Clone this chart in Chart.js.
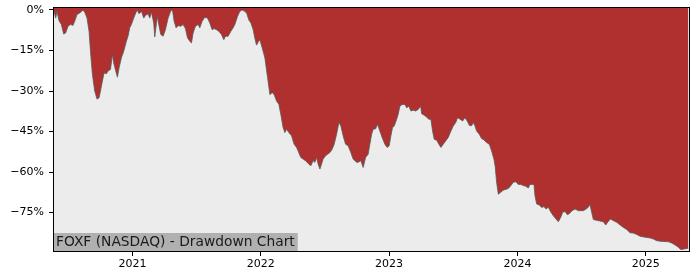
<!DOCTYPE html>
<html>
<head>
<meta charset="utf-8">
<script src="https://cdn.jsdelivr.net/npm/chart.js@4"></script>
<style>
  body { margin: 0; background: #fff; }
  #wrap { width: 700px; height: 280px; }
</style>
</head>
<body>
<div id="wrap"><canvas id="ddChart"></canvas></div>
<script>
// dates as decimal years, drawdown in percent from the running peak
const dates = [
  2020.387, 2020.402, 2020.412, 2020.428, 2020.446, 2020.464, 2020.480, 2020.498, 2020.517, 2020.537,
  2020.550, 2020.568, 2020.589, 2020.615, 2020.630, 2020.646, 2020.662, 2020.673, 2020.688, 2020.706,
  2020.724, 2020.740, 2020.751, 2020.766, 2020.779, 2020.797, 2020.810, 2020.829, 2020.844, 2020.854,
  2020.870, 2020.883, 2020.896, 2020.914, 2020.932, 2020.953, 2020.966, 2020.979, 2020.992, 2021.010,
  2021.026, 2021.036, 2021.052, 2021.070, 2021.088, 2021.104, 2021.122, 2021.135, 2021.148, 2021.166,
  2021.174, 2021.187, 2021.195, 2021.205, 2021.221, 2021.239, 2021.257, 2021.278, 2021.299, 2021.312,
  2021.325, 2021.340, 2021.356, 2021.377, 2021.395, 2021.413, 2021.429, 2021.447, 2021.460, 2021.473,
  2021.491, 2021.512, 2021.525, 2021.543, 2021.564, 2021.585, 2021.603, 2021.621, 2021.636, 2021.655,
  2021.673, 2021.694, 2021.712, 2021.725, 2021.746, 2021.767, 2021.785, 2021.798, 2021.819, 2021.837,
  2021.855, 2021.876, 2021.891, 2021.907, 2021.923, 2021.941, 2021.954, 2021.967, 2021.981, 2021.993,
  2022.011, 2022.032, 2022.053, 2022.071, 2022.089, 2022.104, 2022.123, 2022.141, 2022.156, 2022.174,
  2022.188, 2022.201, 2022.219, 2022.240, 2022.260, 2022.279, 2022.291, 2022.312, 2022.330, 2022.349,
  2022.369, 2022.390, 2022.408, 2022.422, 2022.435, 2022.447, 2022.461, 2022.474, 2022.486, 2022.505,
  2022.521, 2022.539, 2022.556, 2022.572, 2022.591, 2022.609, 2022.624, 2022.642, 2022.661, 2022.681,
  2022.702, 2022.720, 2022.747, 2022.759, 2022.780, 2022.798, 2022.817, 2022.837, 2022.850, 2022.864,
  2022.876, 2022.895, 2022.910, 2022.928, 2022.946, 2022.967, 2022.985, 2023.001, 2023.014, 2023.027,
  2023.040, 2023.059, 2023.071, 2023.084, 2023.102, 2023.123, 2023.137, 2023.154, 2023.170, 2023.188,
  2023.207, 2023.227, 2023.246, 2023.254, 2023.274, 2023.292, 2023.310, 2023.326, 2023.339, 2023.352,
  2023.371, 2023.388, 2023.404, 2023.422, 2023.441, 2023.461, 2023.482, 2023.500, 2023.519, 2023.534,
  2023.552, 2023.573, 2023.591, 2023.609, 2023.625, 2023.643, 2023.656, 2023.669, 2023.682, 2023.703,
  2023.721, 2023.739, 2023.760, 2023.781, 2023.799, 2023.817, 2023.827, 2023.838, 2023.851, 2023.870,
  2023.890, 2023.911, 2023.929, 2023.948, 2023.968, 2023.989, 2024.007, 2024.026, 2024.046, 2024.067,
  2024.085, 2024.098, 2024.119, 2024.129, 2024.137, 2024.150, 2024.171, 2024.189, 2024.207, 2024.223,
  2024.241, 2024.259, 2024.280, 2024.301, 2024.319, 2024.337, 2024.353, 2024.371, 2024.389, 2024.404,
  2024.426, 2024.449, 2024.475, 2024.514, 2024.535, 2024.553, 2024.566, 2024.579, 2024.592, 2024.631,
  2024.670, 2024.688, 2024.709, 2024.727, 2024.748, 2024.774, 2024.800, 2024.826, 2024.852, 2024.878,
  2024.903, 2024.930, 2024.956, 2024.995, 2025.034, 2025.059, 2025.086, 2025.112, 2025.137, 2025.176,
  2025.203, 2025.229, 2025.254, 2025.273, 2025.299, 2025.332
];
const drawdown = [
  0, -3, -0.5, -4, -5.4, -8.9, -8.5, -6, -5.4, -5.7,
  -4.2, -1.7, -1.1, 0, -1, -3, -7.9, -15.3, -23.9, -30,
  -33, -32.5, -30, -26.3, -23.3, -23.6, -22.6, -22, -16.5, -19.6,
  -22.6, -24.9, -21.4, -17.7, -15.3, -11.6, -9.7, -6.6, -5.4, -3,
  -1.1, 0, -1.4, -0.5, -3, -1.9, -1.5, -3, -0.8, -4.8,
  -10, -5, -2.4, -5.4, -9.1, -9.7, -7.3, -3, -0.3, 0,
  -4.2, -6.6, -5.8, -6, -5.4, -6.9, -10.3, -11.6, -12.2, -8.5,
  -6, -5.4, -6.6, -4.2, -2.7, -3, -4.8, -7.3, -6.9, -7.3,
  -7.9, -9.1, -11, -9.7, -9.7, -7.9, -6.6, -5.4, -2.4, -0.5,
  0, -0.5, -1.3, -3.7, -4.8, -7.3, -10.5, -13, -11.8, -11,
  -14, -17.7, -25, -31.3, -30.6, -31.3, -33.7, -34.9, -38.6, -43.5,
  -45.4, -44.2, -45.4, -46.6, -49.7, -50.9, -52.2, -54.6, -55.2, -55.8,
  -56.8, -57.7, -55.8, -56.4, -54.6, -57, -58.9, -57, -55.2, -54,
  -53.4, -52.8, -51.6, -49.7, -46, -41.7, -42.9, -46.6, -49.7, -50.3,
  -52.8, -55.2, -56.4, -56.4, -55.8, -58.3, -54.6, -53.4, -49.7, -46,
  -44.2, -44, -42.3, -44.8, -47.2, -49.7, -50.9, -50.3, -46.6, -43.5,
  -43, -40.5, -38.6, -35.6, -35, -35, -36.2, -35.6, -37.4, -37.1,
  -37.4, -36.8, -35.6, -38.4, -39, -39.6, -40.5, -40.5, -44.8, -47.9,
  -48.2, -49.7, -50.9, -49.7, -48.5, -47.2, -44.8, -43, -41.7, -39.9,
  -40.4, -41.1, -39.9, -41.1, -42.7, -42.9, -41.7, -42.9, -44.8, -46,
  -47.6, -48.1, -49.1, -49.7, -52.2, -55.2, -58, -63.8, -68.2, -67.5,
  -66.7, -66.4, -66.1, -65.1, -63.8, -63.6, -64.6, -64.6, -65, -65.3,
  -65.9, -64.6, -64.6, -64.6, -68.8, -71.8, -72.2, -73.1, -72.8, -73.7,
  -73, -74.7, -76.2, -77.4, -78.4, -76.8, -74.9, -74.6, -75.8, -75.4,
  -74.3, -73.7, -74.3, -74.3, -73.7, -73, -72, -75, -77.6, -78,
  -78.4, -79.6, -78.2, -77.4, -78, -78.6, -79.6, -80.5, -81.3, -82.5,
  -82.6, -83.1, -83.8, -84.1, -84.4, -84.8, -85.4, -85.6, -85.7, -85.8,
  -86.3, -87, -87.8, -88.7, -88.5, -88.2
];
const yTicks = [0, -15, -30, -45, -60, -75];
const xTicks = [2021, 2022, 2023, 2024, 2025];
const chartLabel = "FOXF (NASDAQ) - Drawdown Chart";

const points = dates.map((d, i) => ({ x: d, y: drawdown[i] }));

const plotBg = {
  id: "plotBg",
  beforeDraw(chart) {
    const { ctx, chartArea: a } = chart;
    ctx.save();
    ctx.fillStyle = "#ececec";
    ctx.fillRect(a.left, a.top, a.right - a.left, a.bottom - a.top);
    ctx.restore();
  }
};

const frameAndLabel = {
  id: "frameAndLabel",
  afterDraw(chart) {
    const { ctx, chartArea: a } = chart;
    ctx.save();
    // label box in the lower left corner
    ctx.font = "13.8px 'DejaVu Sans'";
    const w = ctx.measureText(chartLabel).width;
    ctx.fillStyle = "#b0b0b0";
    ctx.fillRect(a.left, a.bottom - 19, w + 6, 19);
    ctx.fillStyle = "#1a1a1a";
    ctx.textBaseline = "alphabetic";
    ctx.fillText(chartLabel, a.left + 3, a.bottom - 6);
    // frame
    ctx.strokeStyle = "#000";
    ctx.lineWidth = 1;
    const l = Math.round(a.left) + 0.5, t = Math.round(a.top) + 0.5;
    const r = Math.round(a.right) - 0.5, b = Math.round(a.bottom) - 0.5;
    ctx.strokeRect(l, t, r - l, b - t);
    ctx.restore();
  }
};

new Chart(document.getElementById("ddChart"), {
  type: "line",
  data: {
    datasets: [{
      data: points,
      borderColor: "rgba(90,90,90,0.8)",
      borderWidth: 1,
      backgroundColor: "#b03030",
      fill: "end",
      pointRadius: 0,
      tension: 0
    }]
  },
  options: {
    responsive: true,
    maintainAspectRatio: false,
    animation: false,
    layout: { padding: { top: 7, right: 10, left: 0, bottom: 0 } },
    plugins: {
      legend: { display: false },
      tooltip: { enabled: false }
    },
    scales: {
      x: {
        type: "linear",
        min: 2020.381,
        max: 2025.345,
        afterFit: s => { s.height = 28; s.paddingLeft = 0; s.paddingRight = 0; },
        afterBuildTicks: s => { s.ticks = xTicks.map(v => ({ value: v })); },
        grid: { drawOnChartArea: false, drawTicks: true, tickLength: 4, color: "#000" },
        border: { display: false },
        ticks: {
          color: "#000",
          font: { family: "DejaVu Sans", size: 11 },
          padding: 2,
          maxRotation: 0,
          callback: v => String(v)
        }
      },
      y: {
        min: -89.6,
        max: 1.1,
        afterFit: s => { s.width = 53; s.paddingTop = 0; s.paddingBottom = 0; },
        afterBuildTicks: s => { s.ticks = yTicks.map(v => ({ value: v })); },
        grid: { drawOnChartArea: false, drawTicks: true, tickLength: 4, color: "#000" },
        border: { display: false },
        ticks: {
          color: "#000",
          font: { family: "DejaVu Sans", size: 11 },
          padding: 5,
          callback: v => (v < 0 ? "\u2212" + Math.abs(v) : v) + "%"
        }
      }
    }
  },
  plugins: [plotBg, frameAndLabel]
});
</script>
</body>
</html>
